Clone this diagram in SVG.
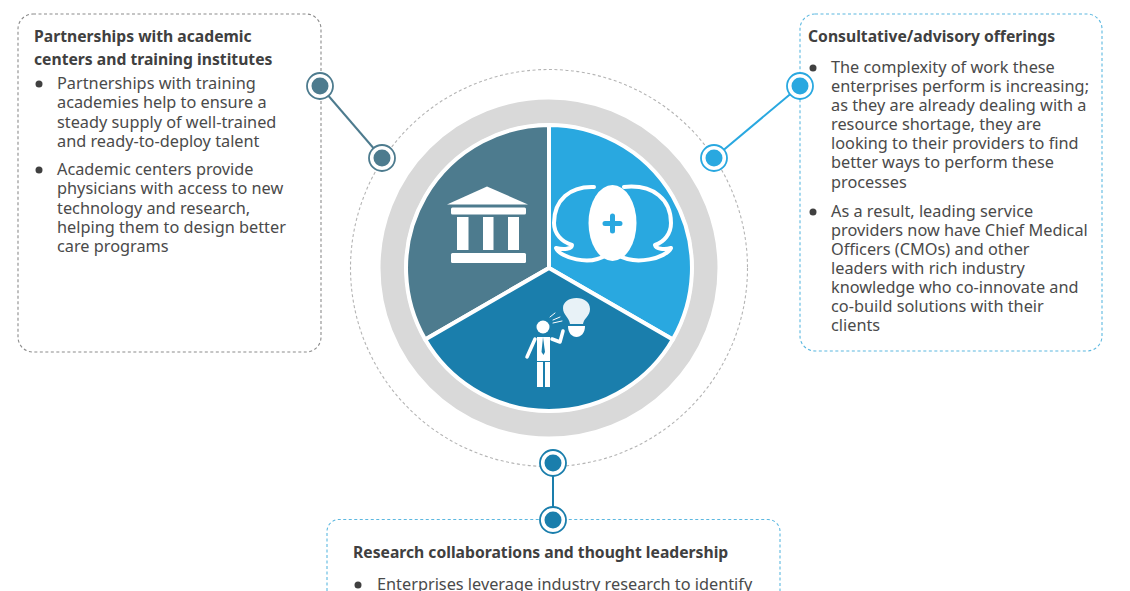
<svg xmlns="http://www.w3.org/2000/svg" width="1130" height="591" viewBox="0 0 1130 591">
<style>
text{font-family:"Noto Sans","Open Sans","Liberation Sans",sans-serif;fill:#404040}
.t{font-size:15.7px;font-weight:700}
.b{font-size:16.3px;fill:#4a4a4a}
.box{fill:none;stroke-width:1.100;stroke-dasharray:3 2.500}
.ic{fill:#fff;stroke:none}
.il{fill:none;stroke:#fff;stroke-linecap:round;stroke-linejoin:round}
.dot{fill:#404040}
.ring{fill:#fff;stroke-width:1.800}
</style>
<g id="centre">
<circle cx="549" cy="268" r="198.500" fill="none" stroke="#b4b4b4" stroke-width="1.100" stroke-dasharray="3 2.500"/>
<circle cx="549" cy="268" r="156.500" fill="none" stroke="#d9d9d9" stroke-width="24"/>
<path d="M549 268V125A143 143 0 0 0 425.200 339.500Z" fill="#4d7b8e" stroke="#fff" stroke-width="4"/>
<path d="M549 268V125A143 143 0 0 1 672.800 339.500Z" fill="#29a8e0" stroke="#fff" stroke-width="4"/>
<path d="M549 268L672.800 339.500A143 143 0 0 1 425.200 339.500Z" fill="#1a7eac" stroke="#fff" stroke-width="4"/>
</g>
<g id="icon-institution">
<path class="ic" d="M447 204.500L487 186.500L528 204.500Z"/>
<rect class="ic" x="451" y="207.500" width="75" height="7" rx="1.500"/>
<rect class="ic" x="457" y="217" width="11.500" height="33"/>
<rect class="ic" x="483" y="217" width="10.500" height="33"/>
<rect class="ic" x="508" y="217" width="11" height="33"/>
<rect class="ic" x="451" y="253" width="75" height="10" rx="1.500"/>
</g>
<g id="icon-care">
<path class="il" stroke-width="4" d="M594 187C570 186 554 200 554 223C554 234 562 242 572 245C572 249 564 250 556 248C560 258 590 266 606 255"/>
<path class="il" stroke-width="4" d="M624 187C654 184 671 200 671 223C671 234 664 242 655 245C656 249 664 250 671 248C666 258 636 266 618 255"/>
<ellipse class="ic" cx="612.500" cy="223" rx="24" ry="38"/>
<path d="M612.500 216V231M605 223.500H620" fill="none" stroke="#29a8e0" stroke-width="5" stroke-linecap="round"/>
</g>
<g id="icon-person">
<circle class="ic" cx="543" cy="327" r="6.500"/>
<path class="ic" d="M537 337H550V361H537Z"/>
<path class="ic" d="M537 362H543V387H537ZM545 362H550V387H545Z"/>
<path class="il" stroke-width="3.500" d="M535 339L527 357M552 339L560 342L563 331"/>
<path d="M543 337L541.500 352L543.500 355L545 352Z" fill="#1a7eac"/>
<path class="ic" opacity=".9" d="M570 324C569 317 563 315 563 308C563 302 569 298 576.500 298C584 298 590 302 590 309C590 316 584 318 583 324Z"/>
<path class="ic" d="M568 326H585C585 333 581 337 576.500 337C572 337 568 333 568 326Z"/>
<path class="il" stroke-width="1" d="M550 317L555 313M553 320L560 317M553 323L562 321"/>
</g>
<g id="connectors" fill="none" stroke-width="2">
<line x1="320" y1="86" x2="382" y2="158" stroke="#4d7b8e"/>
<line x1="800" y1="86" x2="714" y2="158" stroke="#29a8e0"/>
<line x1="553" y1="463" x2="553" y2="520" stroke="#1a7eac"/>
</g>
<g id="box-partnerships">
<rect class="box" x="18" y="14" width="303" height="338" rx="15" stroke="#8c8c8c"/>
<text class="t" x="34" y="42">Partnerships with academic</text>
<text class="t" x="34" y="65">centers and training institutes</text>
<circle class="dot" cx="39" cy="84" r="3.500"/>
<text class="b" x="57" y="89">Partnerships with training</text>
<text class="b" x="57" y="108">academies help to ensure a</text>
<text class="b" x="57" y="128">steady supply of well-trained</text>
<text class="b" x="57" y="147">and ready-to-deploy talent</text>
<circle class="dot" cx="39" cy="170" r="3.500"/>
<text class="b" x="57" y="175">Academic centers provide</text>
<text class="b" x="57" y="194">physicians with access to new</text>
<text class="b" x="57" y="214">technology and research,</text>
<text class="b" x="57" y="233">helping them to design better</text>
<text class="b" x="57" y="252">care programs</text>
</g>
<g id="box-consultative">
<rect class="box" x="800" y="14" width="302" height="337" rx="15" stroke="#5cb8e0"/>
<text class="t" x="808" y="42">Consultative/advisory offerings</text>
<circle class="dot" cx="813" cy="68" r="3.500"/>
<text class="b" x="831" y="73">The complexity of work these</text>
<text class="b" x="831" y="92">enterprises perform is increasing;</text>
<text class="b" x="831" y="111">as they are already dealing with a</text>
<text class="b" x="831" y="130">resource shortage, they are</text>
<text class="b" x="831" y="149">looking to their providers to find</text>
<text class="b" x="831" y="168">better ways to perform these</text>
<text class="b" x="831" y="188">processes</text>
<circle class="dot" cx="813" cy="212" r="3.500"/>
<text class="b" x="831" y="217">As a result, leading service</text>
<text class="b" x="831" y="236">providers now have Chief Medical</text>
<text class="b" x="831" y="255">Officers (CMOs) and other</text>
<text class="b" x="831" y="274">leaders with rich industry</text>
<text class="b" x="831" y="293">knowledge who co-innovate and</text>
<text class="b" x="831" y="312">co-build solutions with their</text>
<text class="b" x="831" y="331">clients</text>
</g>
<g id="box-research">
<path class="box" d="M327 591V531A12 12 0 0 1 339 519.500H768A12 12 0 0 1 780 531V591" stroke="#5cb8e0"/>
<text class="t" x="353" y="558">Research collaborations and thought leadership</text>
<circle class="dot" cx="358" cy="585" r="3.500"/>
<text class="b" x="377" y="590">Enterprises leverage industry research to identify</text>
</g>
<g id="node-a1"><circle class="ring" cx="320" cy="86" r="13" stroke="#4d7b8e"/><circle cx="320" cy="86" r="8.500" fill="#4d7b8e"/></g>
<g id="node-a2"><circle class="ring" cx="382" cy="158" r="13" stroke="#4d7b8e"/><circle cx="382" cy="158" r="8.500" fill="#4d7b8e"/></g>
<g id="node-b1"><circle class="ring" cx="800" cy="86" r="13" stroke="#29a8e0"/><circle cx="800" cy="86" r="8.500" fill="#29a8e0"/></g>
<g id="node-b2"><circle class="ring" cx="714" cy="158" r="13" stroke="#29a8e0"/><circle cx="714" cy="158" r="8.500" fill="#29a8e0"/></g>
<g id="node-c1"><circle class="ring" cx="553" cy="463" r="13" stroke="#1a7eac"/><circle cx="553" cy="463" r="8.500" fill="#1a7eac"/></g>
<g id="node-c2"><circle class="ring" cx="553" cy="520" r="13" stroke="#1a7eac"/><circle cx="553" cy="520" r="8.500" fill="#1a7eac"/></g>
</svg>
